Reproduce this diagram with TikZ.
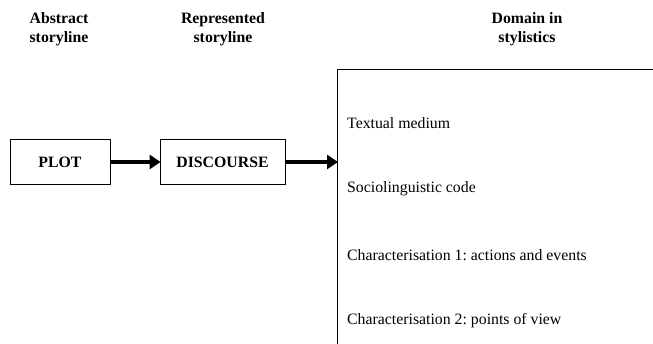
\documentclass[tikz,border=0pt]{standalone}
\usepackage{fontspec}
\setmainfont{Liberation Serif}
\usetikzlibrary{arrows.meta}
\frenchspacing

\begin{document}
\begin{tikzpicture}[x=1pt, y=-1pt,
    stage/.style={draw, line width=0.8pt, inner sep=0pt, minimum width=100pt, minimum height=45pt, font=\fontsize{15.8}{18}\selectfont\bfseries},
    heading/.style={align=center, inner sep=0pt, font=\fontsize{15.8}{18.5}\selectfont\bfseries},
    item/.style={anchor=west, inner sep=0pt, font=\fontsize{15.8}{18}\selectfont},
    flow/.style={line width=4.5pt, -{Triangle[length=11pt, width=14pt]}, shorten >=-1pt}]
      \useasboundingbox (0,0) rectangle (653,344);
      \clip (0,0) rectangle (653,344);

      % column headings
      \node (hplot) at (59,29) [heading] {Abstract\\storyline};
      \node (hdisc) at (223,29) [heading] {Represented\\storyline};
      \node (hdom) at (527,29) [heading] {Domain in\\stylistics};

      % storyline boxes
      \node (plot) at (60,162) [stage] {PLOT};
      \node (discourse) at (222.5,162) [stage, minimum width=125pt] {DISCOURSE};

      % domain box, open to the right and below
      \node (domain) at (337,69) [draw, line width=0.8pt, anchor=north west, minimum width=400pt, minimum height=320pt] {};
      \node (textual) at (347,123) [item] {Textual medium};
      \node (socio) at (347,189) [item] {Sociolinguistic code};
      \node (charone) at (347,255) [item] {Characterisation 1: actions and events};
      \node (chartwo) at (347,321) [item] {Characterisation 2: points of view};

      \draw[flow] (plot.east) -- (discourse.west);
      \draw[flow] (discourse.east) -- (discourse.east -| domain.west);
\end{tikzpicture}
\end{document}
